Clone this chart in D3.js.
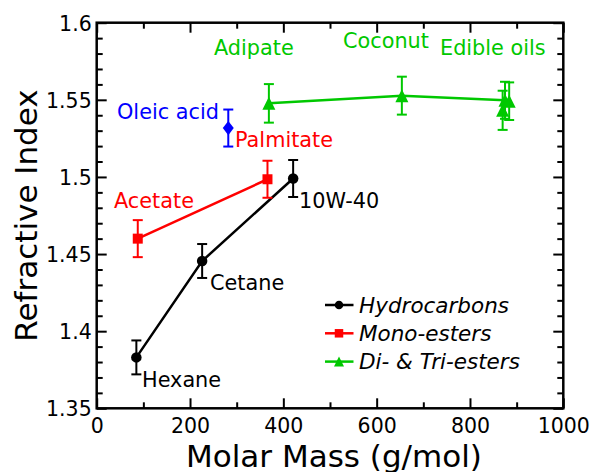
<!DOCTYPE html>
<html>
<head>
<meta charset="utf-8">
<script src="https://cdn.jsdelivr.net/npm/d3@7"></script>
<style>
  html, body { margin: 0; padding: 0; background: #fff; }
  svg { display: block; font-family: "DejaVu Sans", sans-serif; }
</style>
</head>
<body>
<svg id="chart" width="591" height="472"></svg>
<script>
// Refractive index vs molar mass for three classes of liquids
const hydroNames = ["Hexane", "Cetane", "10W-40"];
const hydroMass = [85, 226, 421];
const hydroRI = [1.383, 1.4455, 1.499];
const hydroErr = [0.011, 0.011, 0.012];

const monoNames = ["Acetate", "Palmitate"];
const monoMass = [88, 366];
const monoRI = [1.460, 1.4985];
const monoErr = [0.012, 0.012];

const oleicMass = [282];
const oleicRI = [1.5317];
const oleicErr = [0.012];

const diTriNames = ["Adipate", "Coconut", "Edible oils"];
const diTriMass = [369, 654, 875];
const diTriRI = [1.5477, 1.5527, 1.5497];
const diTriErr = [0.0125, 0.0123, 0.012];

// further edible oil samples (markers only)
const oilMass = [884, 870];
const oilRI = [1.5491, 1.5432];
const oilErr = [0.0122, 0.0127];

const xMajor = [0, 200, 400, 600, 800, 1000];
const xMinor = [100, 300, 500, 700, 900];
const yMajor = [1.35, 1.4, 1.45, 1.5, 1.55, 1.6];
const yMinor = [1.36, 1.37, 1.38, 1.39, 1.41, 1.42, 1.43, 1.44, 1.46, 1.47, 1.48, 1.49,
                1.51, 1.52, 1.53, 1.54, 1.56, 1.57, 1.58, 1.59];
const yTickText = ["1.35", "1.4", "1.45", "1.5", "1.55", "1.6"];

const legendLabels = ["Hydrocarbons", "Mono-esters", "Di- & Tri-esters"];

const BLACK = "#000000", RED = "#ff0000", BLUE = "#0000ff", GREEN = "#00c800";

const svg = d3.select("#chart");
const L = 96.7, R = 563.3, T = 22.7, B = 408.3;
const x = d3.scaleLinear().domain([0, 1000]).range([L, R]);
const y = d3.scaleLinear().domain([1.35, 1.6]).range([B, T]);

// axes with inward ticks on all four sides
function styleAxis(g) {
  g.select(".domain").remove();
  g.selectAll(".tick line").attr("stroke", "#000").attr("stroke-width", 2);
}
svg.append("g").attr("transform", `translate(0,${B})`)
  .call(d3.axisBottom(x).tickValues(xMajor).tickSize(-10).tickPadding(0)
    .tickFormat(d => String(d)))
  .call(styleAxis)
  .call(g => g.selectAll("text").attr("y", 24.7).attr("dy", 0)
    .attr("font-size", 20.5).attr("font-family", "DejaVu Sans").attr("fill", "#000"));
svg.append("g").attr("transform", `translate(0,${B})`)
  .call(d3.axisBottom(x).tickValues(xMinor).tickSize(-6).tickFormat(""))
  .call(styleAxis);
svg.append("g").attr("transform", `translate(0,${T})`)
  .call(d3.axisTop(x).tickValues(xMajor).tickSize(-10).tickFormat(""))
  .call(styleAxis);
svg.append("g").attr("transform", `translate(0,${T})`)
  .call(d3.axisTop(x).tickValues(xMinor).tickSize(-6).tickFormat(""))
  .call(styleAxis);
svg.append("g").attr("transform", `translate(${L},0)`)
  .call(d3.axisLeft(y).tickValues(yMajor).tickSize(-10).tickPadding(5)
    .tickFormat((d, i) => yTickText[i]))
  .call(styleAxis)
  .call(g => g.selectAll("text").attr("dy", "0.36em")
    .attr("font-size", 20.5).attr("font-family", "DejaVu Sans").attr("fill", "#000"));
svg.append("g").attr("transform", `translate(${L},0)`)
  .call(d3.axisLeft(y).tickValues(yMinor).tickSize(-6).tickFormat(""))
  .call(styleAxis);
svg.append("g").attr("transform", `translate(${R},0)`)
  .call(d3.axisRight(y).tickValues(yMajor).tickSize(-10).tickFormat(""))
  .call(styleAxis);
svg.append("g").attr("transform", `translate(${R},0)`)
  .call(d3.axisRight(y).tickValues(yMinor).tickSize(-6).tickFormat(""))
  .call(styleAxis);

// plot frame
svg.append("rect").attr("x", L).attr("y", T).attr("width", R - L).attr("height", B - T)
  .attr("fill", "none").attr("stroke", "#000").attr("stroke-width", 2.5);

// axis titles
svg.append("text").attr("x", (L + R) / 2 + 4).attr("y", 466.5)
  .attr("text-anchor", "middle").attr("font-size", 31).text("Molar Mass (g/mol)");
svg.append("text").attr("transform", `translate(37,${(T + B) / 2}) rotate(-90)`)
  .attr("text-anchor", "middle").attr("font-size", 31).text("Refractive Index");

// marker outlines, sized by their full width s
function markerPath(kind, s) {
  const h = s / 2;
  if (kind === "triangle") return `M0,${-h}L${h},${h}L${-h},${h}Z`;
  if (kind === "circle") return d3.symbol().type(d3.symbolCircle).size(Math.PI * h * h)();
  if (kind === "square") return d3.symbol().type(d3.symbolSquare).size(s * s)();
  if (kind === "diamond") return `M0,${-h * 1.3}L${h},0L0,${h * 1.3}L${-h},0Z`;
}

function drawSeries(mass, ri, err, color, kind, size, withLine) {
  const pts = mass.map((m, i) => ({ m, r: ri[i], e: err[i] }));
  const g = svg.append("g");
  if (withLine) {
    g.append("path").datum(pts)
      .attr("d", d3.line().x(d => x(d.m)).y(d => y(d.r)))
      .attr("fill", "none").attr("stroke", color).attr("stroke-width", 2.5);
  }
  const eb = g.selectAll(".eb").data(pts).enter().append("g");
  eb.append("line").attr("x1", d => x(d.m)).attr("x2", d => x(d.m))
    .attr("y1", d => y(d.r - d.e)).attr("y2", d => y(d.r + d.e))
    .attr("stroke", color).attr("stroke-width", 2);
  [-1, 1].forEach(sgn => {
    eb.append("line").attr("x1", d => x(d.m) - 5).attr("x2", d => x(d.m) + 5)
      .attr("y1", d => y(d.r + sgn * d.e)).attr("y2", d => y(d.r + sgn * d.e))
      .attr("stroke", color).attr("stroke-width", 2);
  });
  g.selectAll(".mk").data(pts).enter().append("path")
    .attr("transform", d => `translate(${x(d.m)},${y(d.r)})`)
    .attr("d", markerPath(kind, size)).attr("fill", color);
}

drawSeries(hydroMass, hydroRI, hydroErr, BLACK, "circle", 10.5, true);
drawSeries(monoMass, monoRI, monoErr, RED, "square", 10, true);
drawSeries(oleicMass, oleicRI, oleicErr, BLUE, "diamond", 11, false);
drawSeries(oilMass, oilRI, oilErr, GREEN, "triangle", 13, false);
drawSeries(diTriMass, diTriRI, diTriErr, GREEN, "triangle", 13, true);

// point annotations
const notes = [
  { t: "Adipate", x: 214, y: 55, c: GREEN },
  { t: "Coconut", x: 343, y: 48, c: GREEN },
  { t: "Edible oils", x: 440, y: 54.5, c: GREEN },
  { t: "Oleic acid", x: 117, y: 118.5, c: BLUE },
  { t: "Palmitate", x: 235, y: 147, c: RED },
  { t: "Acetate", x: 114, y: 207.5, c: RED },
  { t: "10W-40", x: 299, y: 207.5, c: BLACK },
  { t: "Cetane", x: 210, y: 290, c: BLACK },
  { t: "Hexane", x: 142, y: 387, c: BLACK }
];
svg.append("g").selectAll("text").data(notes).enter().append("text")
  .attr("x", d => d.x).attr("y", d => d.y).attr("fill", d => d.c)
  .attr("font-size", 20.8).text(d => d.t);

// legend
const legendColors = [BLACK, RED, GREEN];
const legendKinds = ["circle", "square", "triangle"];
const lg = svg.append("g");
legendLabels.forEach((lab, i) => {
  const cy = 305 + i * 28.3;
  lg.append("line").attr("x1", 325).attr("x2", 353.5).attr("y1", cy).attr("y2", cy)
    .attr("stroke", legendColors[i]).attr("stroke-width", 2.5);
  lg.append("path").attr("transform", `translate(339,${cy})`)
    .attr("d", markerPath(legendKinds[i], legendKinds[i] === "triangle" ? 10 : 8.5))
    .attr("fill", legendColors[i]);
  lg.append("text").attr("x", 359).attr("y", cy + 7.5).attr("font-size", 21.5)
    .attr("font-style", "italic").text(lab);
});
</script>
</body>
</html>
